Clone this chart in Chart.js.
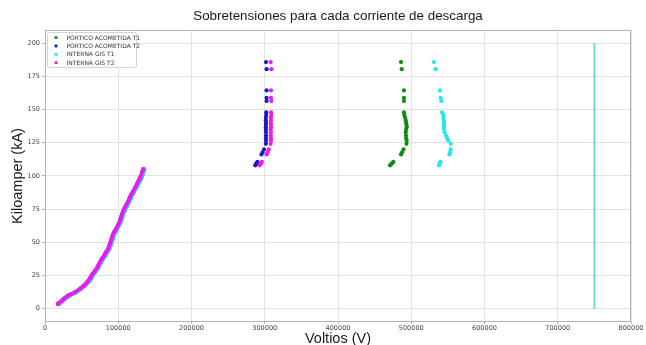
<!DOCTYPE html>
<html>
<head>
<meta charset="utf-8">
<script src="https://cdn.jsdelivr.net/npm/chart.js@4.4.1/dist/chart.umd.min.js"></script>
<style>
  html, body { margin: 0; padding: 0; background: #fff; }
  #wrap { width: 646px; height: 345px; }
</style>
</head>
<body>
<div id="wrap"><canvas id="c" width="646" height="345"></canvas></div>
<script>
// Corrientes de descarga (kA) – tramo bajo, común a los cuatro puntos de medida
const corrienteBaja = [3.6, 4.5, 5.8, 7.0, 8.2, 9.1, 10.0, 11.0, 12.1, 13.3,
  14.5, 15.8, 17.0, 18.4, 19.9, 21.3, 22.8, 24.2, 25.7, 27.1,
  28.6, 30.2, 31.7, 33.3, 34.9, 36.5, 38.0, 39.6, 41.2, 42.8,
  44.4, 46.0, 47.6, 49.3, 51.0, 52.6, 54.3, 56.0, 57.7, 59.4,
  61.1, 62.8, 64.5, 66.3, 68.0, 69.8, 71.6, 73.4, 75.2, 77.0,
  78.8, 80.6, 82.5, 84.3, 86.2, 88.1, 90.0, 91.9, 93.8, 95.7,
  97.6, 99.5, 101.5, 103.4, 105.0];

// Sobretensiones (V) del tramo bajo, transformador T1 y T2
const tensionBajaT1 = [19000, 21000, 24000, 26500, 29000, 31000, 34000, 37500, 41500, 45000,
  48000, 51000, 54000, 56500, 59000, 61000, 63000, 64500, 66000, 67800,
  70000, 72000, 73500, 75000, 76500, 78100, 79800, 81800, 83500, 85300,
  87100, 88500, 89500, 90500, 91500, 92500, 93500, 94500, 96100, 97800,
  99500, 101100, 102800, 104000, 105000, 106000, 107100, 108300, 109800, 111500,
  113200, 114800, 116500, 118000, 119500, 121500, 123500, 125300, 127000, 129000,
  130500, 132000, 133500, 134500, 135500];
const tensionBajaT2 = [17500, 19500, 22500, 25000, 27500, 29500, 32500, 36000, 40000, 43500,
  46500, 49500, 52500, 55000, 57500, 59500, 61500, 63000, 64500, 66300,
  68500, 70500, 72000, 73500, 75000, 76600, 78300, 80300, 82000, 83800,
  85600, 87000, 88000, 89000, 90000, 91000, 92000, 93000, 94600, 96300,
  98000, 99600, 101300, 102500, 103500, 104500, 105600, 106800, 108300, 110000,
  111700, 113300, 115000, 116500, 118000, 120000, 122000, 123800, 125500, 127500,
  129000, 130500, 132000, 133000, 134000];

// Corrientes de descarga (kA) – tramo alto
const corrienteAlta = [108.0, 108.8, 109.8, 110.6, 116.2, 117.8, 120.0, 124.2, 126.7, 128.5,
  130.5, 133.0, 135.0, 136.8, 138.5, 140.0, 142.0, 144.0, 146.0, 148.0,
  156.5, 158.8, 164.5, 180.5, 185.8];

// Sobretensiones (V) del tramo alto para cada punto de medida
const porticoT1Alta = [471000, 472500, 474000, 475500, 486000, 487500, 489500, 493500, 493800, 493000,
  492800, 492500, 493000, 493800, 493500, 493000, 492500, 491500, 490500, 490000,
  490000, 490000, 490000, 487000, 486000];
const porticoT2Alta = [287000, 288000, 289000, 290000, 295500, 297000, 299000, 301500, 301700, 301700,
  301700, 301700, 301500, 301500, 301500, 301700, 301500, 301500, 302000, 302000,
  302600, 302500, 302500, 302600, 301700];
const gisT1Alta = [537900, 538500, 539200, 540000, 552000, 553000, 553900, 553900, 550600, 549000,
  547400, 545500, 544700, 544700, 544700, 544700, 544500, 544000, 543800, 542000,
  541000, 540200, 539200, 533300, 531000];
const gisT2Alta = [293000, 294000, 295000, 296000, 302600, 304000, 305500, 308000, 308500, 308500,
  308200, 308500, 308000, 308500, 308500, 308200, 308500, 308500, 309000, 308500,
  309000, 308500, 308500, 309000, 308000];

// Nivel de aislamiento (V) marcado como línea vertical
const nivelAislamiento = 750000;
const nivelRango = [0, 200];

const nombresSeries = ['PORTICO ACOMETIDA T1', 'PORTICO ACOMETIDA T2', 'INTERNA GIS T1', 'INTERNA GIS T2'];
const coloresSeries = ['#118a11', '#1a1ac0', '#22e6f0', '#f018f0'];

// Tick labels
const ticksX = [0, 100000, 200000, 300000, 400000, 500000, 600000, 700000, 800000];
const ticksY = [0, 25, 50, 75, 100, 125, 150, 175, 200];

function puntos(volts, amps) {
  return volts.map((v, i) => ({ x: v, y: amps[i] }));
}

const seriesV = [
  tensionBajaT1.concat(porticoT1Alta),
  tensionBajaT2.concat(porticoT2Alta),
  tensionBajaT1.concat(gisT1Alta),
  tensionBajaT2.concat(gisT2Alta)
];
const corrientes = corrienteBaja.concat(corrienteAlta);

const datasets = seriesV.map((v, i) => ({
  label: nombresSeries[i],
  data: puntos(v, corrientes),
  backgroundColor: coloresSeries[i],
  borderColor: coloresSeries[i],
  borderWidth: 0,
  pointRadius: 2.1,
  pointHoverRadius: 2.1,
  order: 4 - i
}));

datasets.push({
  label: 'nivel',
  data: nivelRango.map(y => ({ x: nivelAislamiento, y: y })),
  showLine: true,
  borderColor: '#5fd6cf',
  borderWidth: 1.6,
  pointRadius: 0,
  order: 10
});

// Marco de los ejes y leyenda dentro del área de trazado
const marcoYLeyenda = {
  id: 'marcoYLeyenda',
  afterDatasetsDraw(chart) {
    const { ctx, chartArea: a } = chart;
    ctx.save();
    ctx.strokeStyle = '#b4b4b4';
    ctx.lineWidth = 1;
    ctx.strokeRect(a.left + 0.5, a.top + 0.5, a.right - a.left - 1, a.bottom - a.top - 1);

    const bx = a.left + 2.5, by = a.top + 2.5, bw = 89, bh = 35;
    ctx.fillStyle = 'rgba(255,255,255,0.9)';
    ctx.strokeStyle = '#d2d2d2';
    ctx.beginPath();
    ctx.roundRect(bx, by, bw, bh, 2);
    ctx.fill();
    ctx.stroke();

    ctx.font = '6px "DejaVu Sans"';
    ctx.textBaseline = 'middle';
    ctx.textAlign = 'left';
    nombresSeries.forEach((n, i) => {
      const y = by + 5 + i * 8.4;
      ctx.fillStyle = coloresSeries[i];
      ctx.beginPath();
      ctx.arc(bx + 8.5, y, 1.6, 0, Math.PI * 2);
      ctx.fill();
      ctx.fillStyle = '#333';
      ctx.fillText(n, bx + 19, y + 0.5);
    });
    ctx.restore();
  }
};

const fuenteTicks = { family: '"DejaVu Sans"', size: 6.5 };
const fuenteTitulos = { family: '"Liberation Sans", Arial, sans-serif', size: 14.5, weight: 'normal' };

new Chart(document.getElementById('c'), {
  type: 'scatter',
  data: { datasets },
  plugins: [marcoYLeyenda],
  options: {
    responsive: false,
    animation: false,
    devicePixelRatio: 1,
    layout: { padding: { left: 0, right: 15, top: 0, bottom: 0 } },
    plugins: {
      legend: { display: false },
      tooltip: { enabled: false },
      title: {
        display: true,
        text: 'Sobretensiones para cada corriente de descarga',
        color: '#1a1a1a',
        font: { family: '"Liberation Sans", Arial, sans-serif', size: 13.4, weight: 'normal' },
        fullSize: false,
        padding: { top: 8, bottom: 5.9 }
      }
    },
    scales: {
      x: {
        type: 'linear',
        min: 0,
        max: 800000,
        afterBuildTicks(scale) { scale.ticks = ticksX.map(v => ({ value: v })); },
        afterFit(scale) { scale.height = 23; },
        ticks: {
          font: fuenteTicks,
          color: '#444',
          padding: 0,
          maxRotation: 0,
          autoSkip: false,
          callback: v => String(v)
        },
        grid: { color: '#e2e2e2', lineWidth: 1, tickLength: 2, tickColor: '#b4b4b4' },
        border: { display: false },
        title: {
          display: true,
          text: 'Voltios (V)',
          color: '#1a1a1a',
          font: fuenteTitulos,
          padding: { top: 0, bottom: -3 }
        }
      },
      y: {
        type: 'linear',
        min: -10,
        max: 210,
        afterBuildTicks(scale) { scale.ticks = ticksY.map(v => ({ value: v })); },
        afterFit(scale) { scale.width = 45; },
        ticks: {
          font: fuenteTicks,
          color: '#444',
          padding: 2,
          autoSkip: false,
          callback: v => String(v)
        },
        grid: { color: '#e2e2e2', lineWidth: 1, tickLength: 3, tickColor: '#b4b4b4' },
        border: { display: false },
        title: {
          display: true,
          text: 'Kiloamper (kA)',
          color: '#1a1a1a',
          font: fuenteTitulos,
          padding: { top: 9, bottom: 0 }
        }
      }
    }
  }
});
</script>
</body>
</html>
